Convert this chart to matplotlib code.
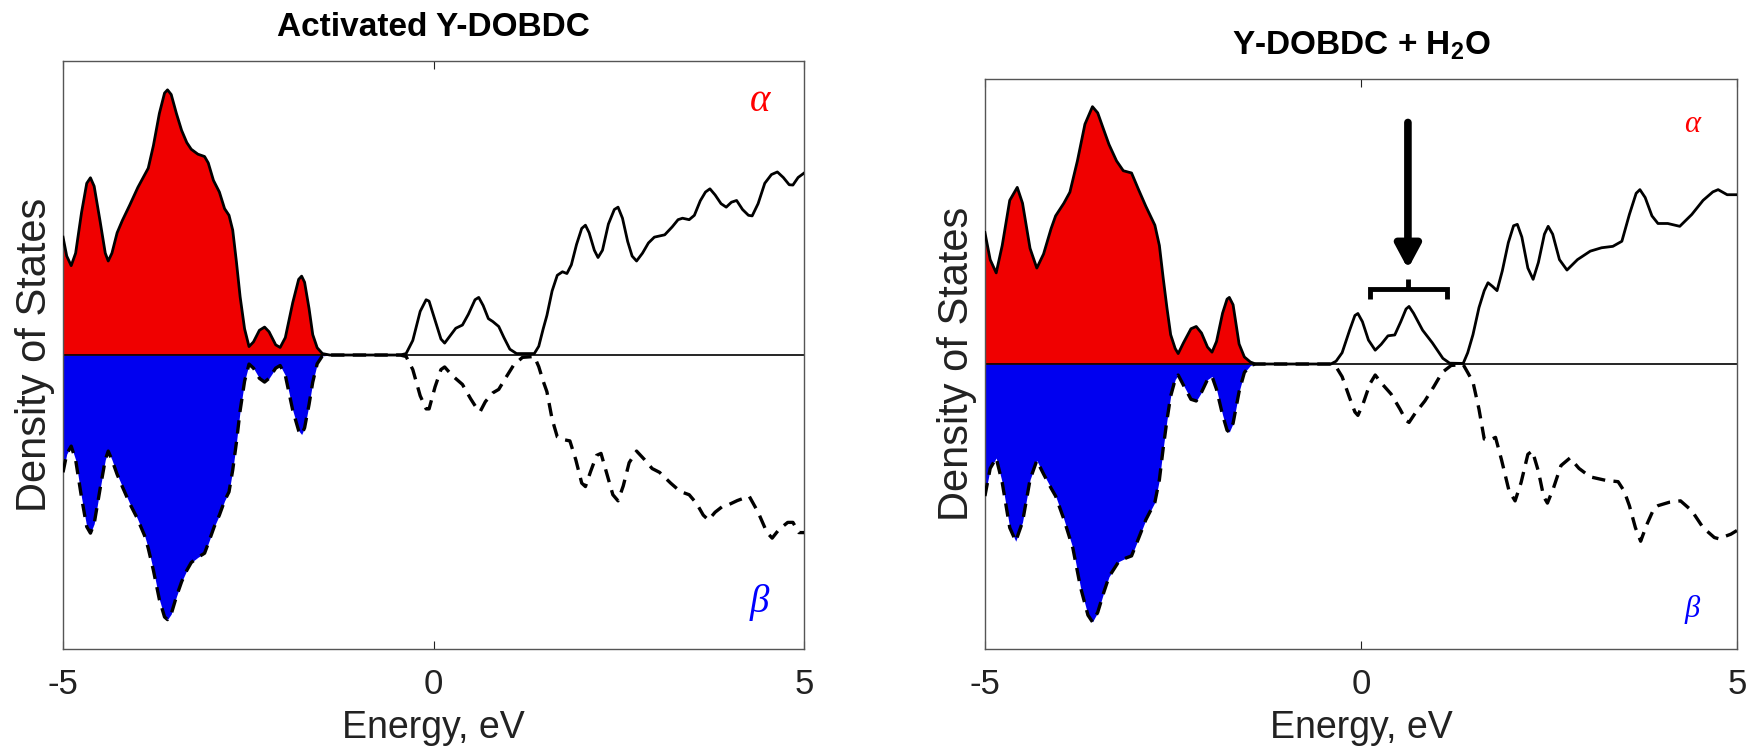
import numpy as np
import matplotlib
matplotlib.use('Agg')
import matplotlib.pyplot as plt

plt.rcParams['font.family'] = ['Liberation Sans', 'DejaVu Sans']
plt.rcParams['mathtext.fontset'] = 'custom'
plt.rcParams['mathtext.rm'] = 'Liberation Sans'
plt.rcParams['mathtext.bf'] = 'Liberation Sans:bold'

# ---- values (energy in eV, DOS in arbitrary units) ----
# Activated Y-DOBDC, spin alpha
e_a1 = [-5.0, -4.95, -4.89, -4.83, -4.75, -4.68, -4.63, -4.58, -4.50, -4.43, -4.39, -4.34, -4.27, -4.20,
        -4.10, -3.99, -3.85, -3.78, -3.70, -3.63, -3.59, -3.54, -3.47, -3.40, -3.33, -3.27, -3.18, -3.09,
        -3.04, -2.97, -2.89, -2.82, -2.76, -2.71, -2.66, -2.61, -2.55, -2.49, -2.43, -2.35, -2.28, -2.22,
        -2.13, -2.07, -2.00, -1.90, -1.82, -1.78, -1.74, -1.68, -1.63, -1.57, -1.50, -1.40, -0.45, -0.37,
        -0.28, -0.18, -0.10, -0.06, 0.02, 0.10, 0.15, 0.22, 0.30, 0.39, 0.47, 0.56, 0.61, 0.67, 0.74,
        0.80, 0.88, 0.95, 1.03, 1.12, 1.36, 1.42, 1.48, 1.53, 1.60, 1.67, 1.74, 1.80, 1.86, 1.93, 2.00,
        2.05, 2.10, 2.17, 2.22, 2.28, 2.36, 2.44, 2.49, 2.55, 2.62, 2.68, 2.74, 2.82, 2.90, 2.98, 3.12,
        3.22, 3.30, 3.36, 3.45, 3.52, 3.60, 3.67, 3.73, 3.80, 3.88, 3.95, 4.02, 4.09, 4.17, 4.25, 4.30,
        4.38, 4.47, 4.56, 4.64, 4.72, 4.80, 4.85, 4.92, 5.0]
d_a1 = [4.05, 3.4, 3.07, 3.5, 4.9, 5.9, 6.09, 5.8, 4.6, 3.5, 3.23, 3.5, 4.2, 4.62,
        5.15, 5.76, 6.42, 7.2, 8.3, 9.0, 9.11, 8.95, 8.3, 7.72, 7.3, 7.07, 6.9, 6.82,
        6.6, 6.0, 5.6, 5.03, 4.8, 4.29, 3.2, 2.0, 0.9, 0.29, 0.45, 0.85, 0.96, 0.8,
        0.35, 0.26, 0.6, 1.8, 2.6, 2.71, 2.5, 1.6, 0.7, 0.25, 0.05, 0.0, 0.0, 0.05,
        0.5, 1.5, 1.9, 1.85, 1.2, 0.55, 0.41, 0.65, 0.92, 1.03, 1.4, 1.9, 1.98, 1.7, 1.25,
        1.15, 0.98, 0.6, 0.2, 0.05, 0.05, 0.3, 0.9, 1.36, 2.2, 2.74, 2.86, 2.8, 3.1, 3.8, 4.35,
        4.46, 4.2, 3.6, 3.35, 3.6, 4.5, 5.0, 5.08, 4.7, 3.9, 3.4, 3.23, 3.5, 3.85, 4.05, 4.13,
        4.4, 4.65, 4.70, 4.65, 4.8, 5.3, 5.6, 5.71, 5.5, 5.2, 5.08, 5.25, 5.31, 5.0, 4.8, 4.78,
        5.2, 5.9, 6.2, 6.29, 6.1, 5.85, 5.84, 6.1, 6.25]

# Activated Y-DOBDC, spin beta
e_b1 = [-5.0, -4.95, -4.89, -4.83, -4.75, -4.68, -4.63, -4.58, -4.50, -4.43, -4.39, -4.34, -4.27, -4.20,
        -4.10, -4.00, -3.90, -3.85, -3.78, -3.70, -3.63, -3.59, -3.54, -3.47, -3.40, -3.33, -3.27, -3.18,
        -3.09, -3.03, -2.96, -2.89, -2.82, -2.76, -2.71, -2.66, -2.61, -2.55, -2.49, -2.43, -2.35, -2.28,
        -2.22, -2.13, -2.07, -2.00, -1.90, -1.82, -1.78, -1.74, -1.68, -1.63, -1.57, -1.50, -1.40, -0.45,
        -0.37, -0.28, -0.18, -0.10, -0.06, 0.02, 0.10, 0.15, 0.25, 0.39, 0.50, 0.60, 0.63, 0.70, 0.80,
        0.88, 0.97, 1.08, 1.20, 1.36, 1.42, 1.48, 1.53, 1.60, 1.67, 1.74, 1.84, 1.92, 2.00, 2.05, 2.12,
        2.20, 2.26, 2.33, 2.42, 2.49, 2.56, 2.64, 2.74, 2.85, 2.95, 3.05, 3.20, 3.33, 3.45, 3.55, 3.64,
        3.71, 3.80, 3.90, 3.95, 4.10, 4.26, 4.38, 4.50, 4.57, 4.66, 4.78, 4.85, 4.93, 5.0]
d_b1 = [-4.03, -3.4, -3.13, -3.6, -4.9, -5.9, -6.12, -5.8, -4.6, -3.6, -3.30, -3.6, -4.1, -4.52,
        -5.1, -5.6, -6.2, -6.64, -7.4, -8.4, -9.0, -9.09, -8.9, -8.3, -7.79, -7.4, -7.13, -6.95,
        -6.81, -6.4, -5.9, -5.50, -5.01, -4.7, -3.95, -3.0, -1.91, -0.9, -0.31, -0.45, -0.8, -0.93,
        -0.8, -0.45, -0.36, -0.7, -1.9, -2.6, -2.73, -2.5, -1.7, -0.93, -0.3, -0.03, 0.0, 0.0,
        -0.05, -0.5, -1.4, -1.85, -1.85, -1.1, -0.5, -0.41, -0.7, -1.01, -1.5, -1.9, -1.94, -1.6, -1.3,
        -1.18, -0.8, -0.35, -0.08, -0.05, -0.4, -0.9, -1.26, -2.2, -2.81, -2.9, -2.95, -3.6, -4.4, -4.52, -4.0,
        -3.45, -3.38, -4.0, -4.8, -5.01, -4.5, -3.7, -3.30, -3.6, -3.9, -4.03, -4.4, -4.69, -4.8, -5.1, -5.5,
        -5.67, -5.4, -5.2, -5.18, -5.0, -4.85, -5.4, -6.1, -6.29, -6.0, -5.75, -5.75, -6.1, -6.1]

# Y-DOBDC + H2O, spin alpha
e_a2 = [-5.0, -4.93, -4.85, -4.77, -4.67, -4.57, -4.50, -4.40, -4.31, -4.22, -4.12, -4.06, -3.95, -3.87,
        -3.77, -3.67, -3.57, -3.50, -3.42, -3.35, -3.25, -3.16, -3.05, -2.96, -2.86, -2.74, -2.68, -2.63,
        -2.58, -2.53, -2.47, -2.43, -2.36, -2.26, -2.19, -2.12, -2.04, -1.98, -1.92, -1.84, -1.78, -1.75,
        -1.70, -1.62, -1.55, -1.47, -1.40, -0.40, -0.33, -0.25, -0.15, -0.08, -0.04, 0.02, 0.10, 0.19,
        0.27, 0.36, 0.45, 0.53, 0.60, 0.64, 0.70, 0.82, 0.95, 1.09, 1.18, 1.36, 1.42, 1.49, 1.57, 1.64,
        1.69, 1.75, 1.81, 1.88, 1.96, 2.03, 2.08, 2.14, 2.22, 2.29, 2.36, 2.44, 2.49, 2.55, 2.64, 2.74,
        2.88, 3.05, 3.20, 3.35, 3.47, 3.57, 3.66, 3.71, 3.78, 3.87, 3.95, 4.08, 4.24, 4.40, 4.55, 4.68,
        4.75, 4.87, 5.0]
d_a2 = [4.66, 3.7, 3.23, 4.2, 5.8, 6.26, 5.7, 4.1, 3.40, 3.9, 4.8, 5.25, 5.7, 6.09,
        7.2, 8.5, 9.12, 8.9, 8.3, 7.78, 7.2, 6.85, 6.77, 6.2, 5.59, 4.92, 4.2, 3.06,
        2.0, 1.04, 0.55, 0.37, 0.75, 1.25, 1.33, 1.1, 0.6, 0.42, 0.8, 1.8, 2.3, 2.36,
        2.1, 0.71, 0.25, 0.07, 0.0, 0.0, 0.1, 0.4, 1.2, 1.72, 1.79, 1.5, 0.85, 0.49,
        0.7, 1.0, 1.03, 1.5, 1.95, 2.04, 1.8, 1.2, 0.75, 0.2, 0.03, 0.02, 0.4, 1.04, 2.0, 2.6,
        2.88, 2.75, 2.6, 3.3, 4.3, 4.9, 4.95, 4.5, 3.4, 3.0, 3.6, 4.6, 4.88, 4.6, 3.7, 3.33,
        3.7, 4.0, 4.12, 4.17, 4.35, 5.3, 6.05, 6.18, 5.9, 5.25, 4.98, 4.98, 4.88, 5.3, 5.8, 6.1,
        6.18, 6.0, 6.0]

# Y-DOBDC + H2O, spin beta
e_b2 = [-5.0, -4.93, -4.85, -4.77, -4.67, -4.59, -4.50, -4.40, -4.31, -4.22, -4.12, -4.06, -3.95, -3.83,
        -3.73, -3.63, -3.57, -3.50, -3.42, -3.35, -3.22, -3.12, -3.05, -2.96, -2.86, -2.74, -2.68, -2.63,
        -2.58, -2.53, -2.47, -2.43, -2.36, -2.26, -2.19, -2.12, -2.04, -1.98, -1.92, -1.84, -1.78, -1.75,
        -1.70, -1.62, -1.55, -1.47, -1.40, -0.40, -0.33, -0.25, -0.15, -0.08, -0.04, 0.03, 0.12, 0.19,
        0.28, 0.40, 0.52, 0.60, 0.64, 0.72, 0.85, 0.97, 1.08, 1.20, 1.36, 1.42, 1.49, 1.57, 1.64, 1.71,
        1.79, 1.87, 1.97, 2.05, 2.13, 2.22, 2.28, 2.36, 2.43, 2.48, 2.56, 2.66, 2.78, 2.90, 3.05, 3.25,
        3.42, 3.50, 3.57, 3.65, 3.72, 3.80, 3.90, 3.95, 4.10, 4.25, 4.40, 4.55, 4.70, 4.77, 4.85, 4.92, 5.0]
d_b2 = [-4.68, -3.7, -3.33, -4.2, -5.8, -6.28, -5.6, -4.1, -3.42, -3.9, -4.4, -4.68, -5.5, -6.53,
        -7.9, -8.9, -9.14, -8.8, -8.1, -7.54, -7.0, -6.87, -6.8, -6.2, -5.52, -4.9, -4.1, -3.0,
        -2.0, -1.14, -0.55, -0.39, -0.75, -1.25, -1.31, -1.0, -0.55, -0.44, -0.9, -1.8, -2.35, -2.41,
        -2.1, -0.98, -0.3, -0.05, 0.0, 0.0, -0.1, -0.45, -1.2, -1.7, -1.82, -1.4, -0.7, -0.39,
        -0.7, -1.06, -1.6, -2.0, -2.07, -1.75, -1.31, -0.8, -0.3, -0.05, -0.02, -0.3, -0.64, -1.6, -2.66, -2.7,
        -2.6, -3.4, -4.5, -4.85, -4.2, -3.2, -3.08, -3.8, -4.7, -4.93, -4.4, -3.6, -3.33, -3.7, -4.0, -4.12,
        -4.17, -4.5, -5.02, -5.8, -6.28, -5.7, -5.1, -5.02, -4.9, -4.85, -5.2, -5.8, -6.15, -6.20, -6.1, -6.03, -5.9]

titles = ['Activated Y-DOBDC', 'Y-DOBDC + H$_\\mathbf{2}$O']
series = [(e_a1, d_a1, e_b1, d_b1), (e_a2, d_a2, e_b2, d_b2)]
fill_edge = -1.4   # occupied states are shaded up to here

fig = plt.figure(figsize=(17.46, 7.49), dpi=100)
rects = [[0.0361, 0.1335, 0.4244, 0.785], [0.5641, 0.1335, 0.4307, 0.761]]
greek_size = [28, 22]
greek_y = [(8.7, -8.5), (8.5, -8.7)]

for i, (rect, title, (ea, da, eb, db)) in enumerate(zip(rects, titles, series)):
    ax = fig.add_axes(rect)
    ea, da, eb, db = map(np.array, (ea, da, eb, db))
    ax.axhline(0, color='black', lw=1.2, zorder=1)
    ma = ea <= fill_edge
    mb = eb <= fill_edge
    ax.fill_between(ea[ma], 0, da[ma], color='#f00000', lw=0, zorder=0)
    ax.fill_between(eb[mb], 0, db[mb], color='#0000f0', lw=0, zorder=0)
    ax.plot(ea, da, color='black', lw=2, zorder=3)
    ax.plot(eb, db, color='black', lw=2.4, ls=(0, (4, 2.5)), zorder=3)
    ax.set_xlim(-5, 5)
    ax.set_ylim(-10.1, 10.1)
    ax.set_xticks([-5, 0, 5])
    ax.set_xticklabels(['-5', '0', '5'])
    ax.set_yticks([])
    ax.tick_params(axis='x', direction='in', length=6, width=0.8, top=True,
                   labelsize=25, pad=14, colors='#222222')
    for s in ax.spines.values():
        s.set_color('#555555')
        s.set_linewidth(1.0)
    ax.set_xlabel('Energy, eV', fontsize=27, color='#222222', labelpad=6)
    ax.set_ylabel('Density of States', fontsize=30, color='#222222', labelpad=6)
    ax.set_title(title, fontsize=24, fontweight='bold', pad=18)
    ya, yb = greek_y[i]
    ax.text(4.4, ya, 'α', color='red', fontsize=greek_size[i], fontstyle='italic',
            family=['Liberation Serif', 'DejaVu Serif'], ha='center', va='center')
    ax.text(4.4, yb, 'β', color='blue', fontsize=greek_size[i], fontstyle='italic',
            family=['Liberation Serif', 'DejaVu Serif'], ha='center', va='center')
    if i == 1:
        # arrow and bracket marking the new states from water
        ax.annotate('', xy=(0.625, 3.37), xytext=(0.625, 8.56),
                    arrowprops=dict(arrowstyle='-|>,head_width=0.75,head_length=1.4',
                                    color='black', lw=5.5, shrinkA=0, shrinkB=0))
        ax.plot([0.12, 0.12, 1.14, 1.14], [2.32, 2.67, 2.67, 2.32], color='black', lw=3.5,
                solid_joinstyle='miter', solid_capstyle='butt')
        ax.plot([0.625, 0.625], [2.67, 3.02], color='black', lw=3.5, solid_capstyle='butt')

fig.savefig('out.png', dpi=100)
